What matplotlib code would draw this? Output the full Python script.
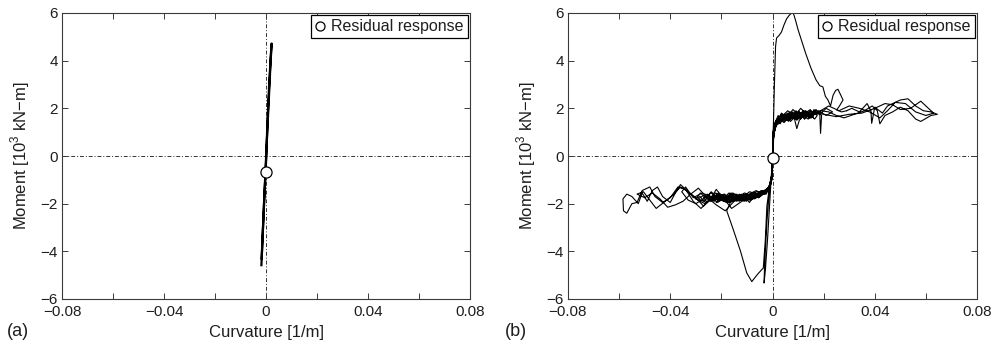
import numpy as np
import matplotlib
matplotlib.use("Agg")
import matplotlib.pyplot as plt
from matplotlib.lines import Line2D

plt.rcParams['font.family'] = ['Liberation Sans', 'DejaVu Sans']
plt.rcParams['mathtext.fontset'] = 'custom'
plt.rcParams['mathtext.rm'] = 'Liberation Sans'

# ---------------- axis settings ----------------
x_ticks = [-0.08, -0.06, -0.04, -0.02, 0.0, 0.02, 0.04, 0.06, 0.08]
x_tick_labels = ['\u22120.08', '', '\u22120.04', '', '0', '', '0.04', '', '0.08']
y_ticks = [-6, -4, -2, 0, 2, 4, 6]
y_tick_labels = ['\u22126', '\u22124', '\u22122', '0', '2', '4', '6']

# ---------------- panel (a): elastic response ----------------
a_curv = [-0.0018, -0.0012, -0.0006, 0.0, 0.0006, 0.0012, 0.0018, 0.0022,
          0.0016, 0.0008, 0.0001, -0.0007, -0.0014, -0.0017]
a_moment = [-4.58, -3.1, -1.6, -0.3, 1.5, 2.9, 4.1, 4.72,
            3.5, 1.7, 0.1, -1.8, -3.5, -4.3]
a_resid = (0.0, -0.66)

# ---------------- panel (b): inelastic response ----------------
# first positive pulse
pulse_curv = [0.0, 0.0004, 0.0008, 0.0012, 0.0016, 0.0025, 0.0035, 0.0045,
              0.0055, 0.0065, 0.0075, 0.0082, 0.0090, 0.0100, 0.0115, 0.0130,
              0.0150, 0.0170, 0.0185, 0.0197, 0.0207, 0.0217, 0.0227, 0.0237,
              0.0247, 0.0256, 0.0265, 0.0276, 0.0262, 0.0251, 0.0270, 0.0290]
pulse_moment = [0.0, 1.5, 3.2, 4.6, 4.95, 5.05, 5.2, 5.5,
                5.75, 5.9, 6.0, 5.98, 5.7, 5.3, 4.8, 4.3,
                3.7, 3.2, 2.95, 2.9, 2.5, 2.35, 2.1, 2.55,
                2.75, 2.8, 2.6, 2.35, 2.1, 1.93, 1.85, 1.9]

# excursions far to the positive side
far_pos_curv = [0.0290, 0.031, 0.034, 0.037, 0.0385, 0.0388, 0.040, 0.043,
                0.045, 0.047, 0.050, 0.053, 0.056, 0.059, 0.062, 0.0645,
                0.062, 0.058, 0.056, 0.053, 0.050, 0.047, 0.044, 0.042,
                0.041, 0.039, 0.036, 0.032, 0.028, 0.025, 0.022, 0.019,
                0.017, 0.020, 0.025, 0.030, 0.035, 0.040, 0.044, 0.047,
                0.050, 0.054, 0.058, 0.060, 0.063, 0.060, 0.056, 0.052,
                0.048, 0.045, 0.042, 0.038, 0.034, 0.030, 0.026, 0.022,
                0.018, 0.014, 0.010, 0.006, 0.003, 0.0012, 0.0004, 0.0]
far_pos_moment = [1.9, 2.0, 1.85, 2.2, 1.9, 1.37, 2.05, 1.8,
                  2.1, 2.2, 2.35, 2.4, 2.1, 1.9, 1.85, 1.75,
                  1.7, 1.45, 1.55, 1.9, 2.05, 1.85, 1.7, 1.35,
                  1.9, 2.1, 1.9, 1.75, 1.6, 1.7, 1.85, 1.9,
                  1.8, 1.75, 1.65, 1.75, 1.8, 2.0, 2.2, 2.15,
                  1.95, 2.0, 2.3, 2.1, 1.8, 1.7, 1.85, 2.2,
                  2.25, 1.9, 1.6, 1.85, 2.0, 2.1, 1.9, 2.1,
                  1.85, 1.75, 1.6, 1.7, 1.5, 1.3, 0.8, 0.0]

# repeated small cycles on the positive plateau
pos_band_curv = [0.0, 0.0003, 0.0008, 0.002, 0.004, 0.006, 0.0085, 0.011, 0.013, 0.0155,
                 0.017, 0.015, 0.012, 0.009, 0.006, 0.003, 0.0012, 0.0004, 0.0,
                 0.0003, 0.001, 0.0025, 0.0045, 0.0065, 0.008, 0.0095, 0.0115, 0.014,
                 0.016, 0.0185, 0.0188, 0.0192, 0.017, 0.0145, 0.012, 0.010, 0.0075,
                 0.005, 0.0035, 0.0015, 0.0005, 0.0,
                 0.0004, 0.0012, 0.003, 0.005, 0.007, 0.0085, 0.0095, 0.0105, 0.0125,
                 0.0145, 0.0165, 0.019, 0.021, 0.0235, 0.021, 0.018, 0.0155, 0.013,
                 0.0105, 0.008, 0.0055, 0.0035, 0.002, 0.0006, 0.0,
                 0.0003, 0.001, 0.0022, 0.004, 0.0058, 0.0075, 0.0092, 0.011, 0.0128,
                 0.0148, 0.016, 0.0135, 0.011, 0.009, 0.0068, 0.0048, 0.0028, 0.0012,
                 0.0004, 0.0,
                 0.0004, 0.0015, 0.0035, 0.006, 0.0082, 0.0105, 0.0125, 0.015, 0.0175,
                 0.0165, 0.0138, 0.0112, 0.0088, 0.0062, 0.004, 0.002, 0.0005, 0.0,
                 0.0004, 0.0013, 0.003, 0.0052, 0.0072, 0.0095, 0.0118, 0.0142, 0.0160,
                 0.0150, 0.0125, 0.0100, 0.0078, 0.0055, 0.0032, 0.0014, 0.0004, 0.0]
pos_band_moment = [0.0, 0.9, 1.25, 1.45, 1.6, 1.5, 1.75, 1.6, 1.85, 1.7,
                   1.9, 1.65, 1.8, 1.55, 1.7, 1.5, 1.3, 0.8, 0.0,
                   1.0, 1.35, 1.6, 1.4, 1.65, 1.85, 1.5, 1.7, 1.55,
                   1.8, 1.75, 0.95, 1.7, 1.95, 1.7, 1.9, 1.65, 1.8,
                   1.55, 1.75, 1.4, 0.9, 0.0,
                   1.1, 1.45, 1.55, 1.75, 1.45, 1.6, 1.15, 1.5, 1.75,
                   1.6, 1.85, 1.8, 2.0, 1.85, 1.7, 1.9, 1.65, 1.9,
                   1.7, 1.95, 1.6, 1.8, 1.5, 1.0, 0.0,
                   1.05, 1.4, 1.7, 1.45, 1.8, 1.6, 1.9, 1.55, 1.8,
                   1.95, 1.6, 1.75, 2.0, 1.7, 1.85, 1.55, 1.65, 1.35,
                   0.85, 0.0,
                   1.15, 1.5, 1.65, 1.9, 1.65, 1.85, 1.55, 1.9, 1.7,
                   1.55, 1.85, 1.6, 1.8, 1.55, 1.75, 1.45, 0.95, 0.0,
                   1.0, 1.45, 1.6, 1.5, 1.75, 1.55, 1.8, 1.65, 1.85,
                   1.6, 1.7, 1.85, 1.6, 1.75, 1.55, 1.3, 0.85, 0.0]

# later, smaller cycles on the positive plateau
pos_late_curv = [0.0, 0.0002, 0.0006, 0.0015, 0.0025, 0.0035, 0.0045, 0.0055, 0.0065,
                 0.0075, 0.0085, 0.0095, 0.0105, 0.0115, 0.0125, 0.0135, 0.0145, 0.0155,
                 0.0148, 0.0138, 0.0128, 0.0118, 0.0108, 0.0098, 0.0088, 0.0078, 0.0068,
                 0.0058, 0.0048, 0.0038, 0.0028, 0.0018, 0.0008, 0.0003, 0.0,
                 0.0003, 0.0009, 0.0018, 0.003, 0.0042, 0.0054, 0.0066, 0.0078, 0.009,
                 0.0102, 0.0114, 0.0126, 0.0138, 0.015, 0.0162, 0.0174, 0.0165, 0.0152,
                 0.014, 0.0127, 0.0114, 0.0101, 0.0088, 0.0075, 0.0062, 0.0049, 0.0036,
                 0.0023, 0.0011, 0.0003, 0.0]
pos_late_moment = [0.0, 0.8, 1.2, 1.4, 1.55, 1.45, 1.65, 1.5, 1.7,
                   1.55, 1.75, 1.6, 1.8, 1.65, 1.85, 1.7, 1.9, 1.75,
                   1.6, 1.8, 1.65, 1.85, 1.6, 1.75, 1.55, 1.7, 1.5,
                   1.65, 1.45, 1.6, 1.4, 1.5, 1.2, 0.75, 0.0,
                   1.0, 1.3, 1.55, 1.35, 1.6, 1.75, 1.5, 1.8, 1.6,
                   1.9, 1.7, 1.55, 1.85, 1.65, 1.95, 1.75, 1.85, 1.6,
                   1.75, 1.9, 1.65, 1.8, 1.6, 1.8, 1.45, 1.7, 1.55,
                   1.35, 1.25, 0.9, 0.0]

# repeated cycles on the negative plateau
neg_band_curv = [0.0, -0.0003, -0.001, -0.003, -0.006, -0.009, -0.012, -0.015, -0.018, -0.021,
                 -0.024, -0.027, -0.029, -0.026, -0.023, -0.020, -0.017, -0.014, -0.011,
                 -0.008, -0.005, -0.0025, -0.001, -0.0004, 0.0,
                 -0.0004, -0.0012, -0.0035, -0.0065, -0.0095, -0.0125, -0.0155, -0.0185,
                 -0.0215, -0.0245, -0.0275, -0.031, -0.034, -0.0355, -0.033, -0.030,
                 -0.027, -0.024, -0.021, -0.018, -0.015, -0.012, -0.009, -0.006,
                 -0.0035, -0.0012, -0.0004, 0.0,
                 -0.0003, -0.001, -0.0028, -0.0055, -0.008, -0.0105, -0.013, -0.0155,
                 -0.018, -0.0205, -0.023, -0.0255, -0.024, -0.0215, -0.019, -0.0165,
                 -0.014, -0.0115, -0.009, -0.0075, -0.005, -0.0025, -0.001, -0.0003, 0.0,
                 -0.0004, -0.0015, -0.004, -0.007, -0.010, -0.013, -0.016, -0.019,
                 -0.022, -0.020, -0.017, -0.014, -0.011, -0.008, -0.0055, -0.003,
                 -0.0012, -0.0004, 0.0,
                 -0.0003, -0.0012, -0.0032, -0.0058, -0.0085, -0.0112, -0.0138, -0.0165,
                 -0.0192, -0.0222, -0.0250, -0.0228, -0.0200, -0.0172, -0.0145, -0.0118,
                 -0.0090, -0.0062, -0.0038, -0.0015, -0.0004, 0.0]
neg_band_moment = [0.0, -0.9, -1.25, -1.5, -1.6, -1.5, -1.75, -1.6, -1.85, -1.7,
                   -1.9, -1.65, -1.8, -1.95, -1.7, -1.85, -1.65, -1.9, -1.7,
                   -1.8, -1.55, -1.6, -1.3, -0.85, 0.0,
                   -1.0, -1.35, -1.6, -1.45, -1.7, -1.85, -1.55, -1.75,
                   -1.95, -1.7, -1.55, -1.75, -1.3, -1.5, -1.85, -2.0,
                   -1.8, -1.55, -1.8, -1.95, -1.75, -1.6, -1.85, -1.7,
                   -1.5, -1.3, -0.9, 0.0,
                   -0.95, -1.3, -1.55, -1.75, -1.55, -1.8, -1.6, -1.9,
                   -1.7, -1.6, -1.85, -1.7, -1.5, -1.75, -1.9, -1.65,
                   -1.85, -1.65, -1.95, -1.7, -1.6, -1.45, -1.2, -0.8, 0.0,
                   -1.05, -1.4, -1.55, -1.8, -1.6, -1.9, -1.65, -1.85,
                   -1.6, -1.8, -1.95, -1.7, -1.9, -1.65, -1.75, -1.5,
                   -1.35, -0.9, 0.0,
                   -1.0, -1.3, -1.45, -1.7, -1.85, -1.6, -1.8, -1.95,
                   -1.75, -1.55, -1.8, -1.9, -1.65, -1.8, -1.6, -1.85,
                   -1.7, -1.5, -1.6, -1.35, -0.85, 0.0]

# later cycles on the negative plateau
neg_late_curv = [0.0, -0.0002, -0.0007, -0.0017, -0.003, -0.0045, -0.006, -0.0075, -0.009,
                 -0.0105, -0.012, -0.0135, -0.015, -0.0165, -0.018, -0.0195, -0.021,
                 -0.0225, -0.024, -0.0255, -0.027, -0.0255, -0.024, -0.0225, -0.021,
                 -0.0195, -0.018, -0.0165, -0.015, -0.0135, -0.012, -0.0105, -0.009,
                 -0.0075, -0.006, -0.0045, -0.003, -0.0017, -0.0007, -0.0002, 0.0,
                 -0.0003, -0.001, -0.002, -0.0035, -0.005, -0.0068, -0.0086, -0.0104,
                 -0.0122, -0.014, -0.0158, -0.0176, -0.0194, -0.0212, -0.023, -0.0248,
                 -0.0266, -0.0284, -0.030, -0.0282, -0.0262, -0.0242, -0.0222, -0.0202,
                 -0.0182, -0.0162, -0.0142, -0.0122, -0.0102, -0.0082, -0.0062, -0.0042,
                 -0.0022, -0.0009, -0.0002, 0.0,
                 -0.0003, -0.0012, -0.0025, -0.004, -0.0058, -0.0076, -0.0094, -0.0112,
                 -0.013, -0.0148, -0.0166, -0.0184, -0.0202, -0.022, -0.0205, -0.0187,
                 -0.0169, -0.0151, -0.0133, -0.0115, -0.0097, -0.0079, -0.0061, -0.0043,
                 -0.0025, -0.001, -0.0003, 0.0]
neg_late_moment = [0.0, -0.8, -1.2, -1.4, -1.55, -1.45, -1.65, -1.5, -1.7,
                   -1.6, -1.8, -1.65, -1.85, -1.7, -1.9, -1.75, -1.6,
                   -1.85, -1.7, -1.95, -1.75, -1.6, -1.8, -1.65, -1.9,
                   -1.7, -1.85, -1.6, -1.8, -1.65, -1.85, -1.6, -1.75,
                   -1.55, -1.7, -1.5, -1.6, -1.35, -1.15, -0.7, 0.0,
                   -0.95, -1.3, -1.45, -1.6, -1.5, -1.7, -1.55, -1.75,
                   -1.85, -1.6, -1.8, -1.95, -1.7, -1.55, -1.8, -1.65,
                   -1.9, -1.7, -1.8, -1.55, -1.75, -1.9, -1.65, -1.85,
                   -1.75, -1.55, -1.8, -1.7, -1.9, -1.65, -1.75, -1.55,
                   -1.5, -1.3, -0.8, 0.0,
                   -1.0, -1.35, -1.5, -1.45, -1.65, -1.55, -1.8, -1.6,
                   -1.75, -1.9, -1.65, -1.8, -1.7, -1.95, -1.75, -1.6,
                   -1.85, -1.7, -1.8, -1.6, -1.85, -1.65, -1.6, -1.5,
                   -1.55, -1.25, -0.85, 0.0]

# excursions far to the negative side
far_neg_curv = [0.0, -0.0004, -0.0015, -0.004, -0.008, -0.012, -0.016, -0.019, -0.022,
                -0.0245, -0.027, -0.030, -0.033, -0.036, -0.038, -0.040, -0.043,
                -0.045, -0.047, -0.049, -0.051, -0.0525, -0.055, -0.057, -0.0585,
                -0.0583, -0.057, -0.055, -0.053, -0.051, -0.048, -0.046, -0.043,
                -0.040, -0.037, -0.034, -0.031, -0.028, -0.025, -0.022, -0.019,
                -0.016, -0.013, -0.010, -0.007, -0.004, -0.0015, -0.0004, 0.0,
                -0.0003, -0.0012, -0.0035, -0.007, -0.011, -0.015, -0.0185, -0.022,
                -0.026, -0.029, -0.032, -0.035, -0.038, -0.041, -0.044, -0.047,
                -0.050, -0.053, -0.0505, -0.048, -0.0455, -0.042, -0.039, -0.036,
                -0.033, -0.030, -0.0265, -0.023, -0.020, -0.017, -0.014, -0.011,
                -0.008, -0.0045, -0.0015, -0.0004, 0.0]
far_neg_moment = [0.0, -1.05, -1.4, -1.55, -1.75, -1.9, -2.2, -1.8, -1.4,
                  -1.85, -2.1, -1.75, -1.5, -1.2, -1.55, -1.95, -1.7,
                  -1.3, -1.45, -1.9, -1.55, -2.0, -1.7, -1.6, -1.8,
                  -2.3, -2.4, -2.0, -1.95, -1.45, -1.3, -1.7, -1.95,
                  -1.75, -1.3, -1.4, -1.9, -2.2, -1.9, -1.75, -1.6,
                  -1.85, -1.7, -1.85, -1.6, -1.55, -1.35, -0.9, 0.0,
                  -1.0, -1.3, -1.5, -1.7, -1.55, -1.9, -2.3, -2.05,
                  -1.7, -1.35, -1.6, -1.9, -2.05, -2.15, -1.8, -1.55,
                  -1.75, -1.6, -1.5, -1.85, -2.2, -1.9, -1.65, -1.3,
                  -1.5, -1.8, -2.0, -1.7, -1.85, -1.55, -1.8, -1.65,
                  -1.8, -1.55, -1.4, -0.95, 0.0]

# large negative pulse and its return
neg_pulse_curv = [0.0, -0.001, -0.002, -0.0028, -0.0033, -0.0031, -0.0022, -0.0012,
                  -0.0004, -0.0015, -0.004, -0.007, -0.010, -0.013, -0.0155,
                  -0.0179, -0.0153, -0.0125, -0.0101, -0.0081, -0.0065, -0.0055,
                  -0.0036, -0.0028, -0.0022, -0.0012, -0.0003, 0.0]
neg_pulse_moment = [0.0, -1.8, -3.6, -4.8, -5.33, -4.6, -2.8, -1.4,
                    -1.0, -1.35, -1.5, -1.7, -1.6, -1.85, -1.7,
                    -2.3, -3.1, -4.0, -4.9, -5.27, -5.05, -4.92,
                    -4.7, -3.5, -2.1, -1.3, -0.8, 0.0]

b_resid = (0.0, -0.1)

# ---------------- drawing ----------------
fig = plt.figure(figsize=(9.96, 3.49), dpi=100)
ax_a = fig.add_axes([62 / 996, 50 / 349, 408 / 996, 286 / 349])
ax_b = fig.add_axes([568 / 996, 50 / 349, 409 / 996, 286 / 349])

frame_col = '#3a3a3a'
text_col = '#1e1e1e'

def style_axes(ax):
    ax.set_xlim(-0.08, 0.08)
    ax.set_ylim(-6, 6)
    ax.set_xticks(x_ticks)
    ax.set_xticklabels(x_tick_labels)
    ax.set_yticks(y_ticks)
    ax.set_yticklabels(y_tick_labels)
    ax.tick_params(direction='in', top=True, right=True, length=4.5, width=0.7,
                   colors=frame_col, labelcolor=text_col, labelsize=11, pad=3)
    ax.tick_params(axis='x', pad=4.5)
    for sp in ax.spines.values():
        sp.set_color(frame_col)
        sp.set_linewidth(0.8)
    ax.axhline(0, color='#333333', lw=0.7, ls=(0, (4, 2, 1, 2)), zorder=1)
    ax.axvline(0, color='#333333', lw=0.7, ls=(0, (4, 2, 1, 2)), zorder=1)
    ax.set_xlabel('Curvature [1/m]', fontsize=12, color=text_col, labelpad=4)
    ax.set_ylabel('Moment [10$^3$ kN\u2212m]', fontsize=12, color=text_col, labelpad=6)
    handle = Line2D([], [], ls='none', marker='o', mfc='white', mec='black',
                    mew=0.9, ms=6.5)
    leg = ax.legend([handle], ['Residual response'], loc='upper right',
                    fontsize=11.5, frameon=True, fancybox=False, framealpha=1,
                    edgecolor='black', borderaxespad=0.15, borderpad=0.25,
                    handlelength=0.6, handletextpad=0.4, labelcolor=text_col)
    leg.get_frame().set_linewidth(0.9)

# panel (a)
style_axes(ax_a)
ax_a.plot(a_curv, a_moment, color='black', lw=1.6, zorder=2)
ax_a.plot(*a_resid, ls='none', marker='o', mfc='white', mec='black',
          mew=0.9, ms=8, zorder=5)

# panel (b)
style_axes(ax_b)
for k, m in [(pos_band_curv, pos_band_moment), (pos_late_curv, pos_late_moment),
             (neg_band_curv, neg_band_moment), (neg_late_curv, neg_late_moment),
             (far_neg_curv, far_neg_moment), (far_pos_curv, far_pos_moment),
             (pulse_curv, pulse_moment), (neg_pulse_curv, neg_pulse_moment)]:
    ax_b.plot(k, m, color='black', lw=0.8, zorder=2)
ax_b.plot(*b_resid, ls='none', marker='o', mfc='white', mec='black',
          mew=0.9, ms=8, zorder=5)

fig.text(7 / 996, 1 - 331 / 349, '(a)', fontsize=13, color=text_col, va='center')
fig.text(505 / 996, 1 - 331 / 349, '(b)', fontsize=13, color=text_col, va='center')

fig.savefig('out.png', dpi=100)
